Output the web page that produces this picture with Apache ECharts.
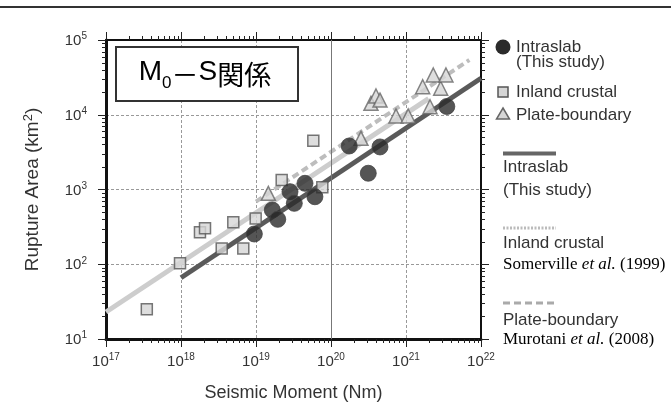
<!DOCTYPE html>
<html><head><meta charset="utf-8">
<script src="https://cdn.jsdelivr.net/npm/echarts@6/dist/echarts.min.js"></script>
<style>html,body{margin:0;padding:0;background:#fff}#c{width:671px;height:413px}</style>
</head><body><div id="c"></div><script>
// ---- data ----
const xDecades = [17, 18, 19, 20, 21, 22];
const yDecades = [1, 2, 3, 4, 5];
const minorMultipliers = [2, 3, 4, 5, 6, 7, 8, 9];
// [Seismic moment (Nm), Rupture area (km2)]
const intraslab = [[9.5e18, 254], [1.65e19, 532], [1.95e19, 399], [2.84e19, 935], [3.24e19, 653], [4.5e19, 1210], [6.1e19, 800], [1.75e20, 3820], [4.5e20, 3710], [3.14e20, 1650], [3.5e21, 12900]];
const inlandCrustal = [[3.5e17, 25], [9.7e17, 103], [1.79e18, 267], [2.09e18, 303], [3.49e18, 163], [4.98e18, 364], [6.77e18, 163], [9.9e18, 409], [2.2e19, 1340], [7.66e19, 1070], [5.81e19, 4500]];
const plateBoundary = [[1.46e19, 889], [2.51e20, 4840], [3.41e20, 14200], [3.98e20, 17800], [4.5e20, 15700], [7.36e20, 9620], [1.07e21, 9620], [2.09e21, 12800], [1.67e21, 23700], [2.9e21, 22600], [2.31e21, 34000], [3.41e21, 34000]];
const intraslabFit = [[1e18, 66], [1e22, 30800]];
const inlandFit = [[1e17, 23], [2e21, 16400]];
const plateFit = [[1e19, 690], [7e21, 54000]];

// ---- helpers ----
const SANS = "'Liberation Sans', Arial, Helvetica, sans-serif";
const SERIF = "'Liberation Serif', 'Times New Roman', serif";
const CJK = "'Noto Sans CJK JP', sans-serif";
const minorData = [];
xDecades.slice(0, -1).forEach(d => minorMultipliers.forEach(m => minorData.push([m * Math.pow(10, d), 100, 0])));
yDecades.slice(0, -1).forEach(d => minorMultipliers.forEach(m => minorData.push([1e19, m * Math.pow(10, d), 1])));

function powLabel(v) {
  const e = Math.round(Math.log10(v));
  return '{b|10}{s|' + e + '}';
}
const powRich = {
  b: { fontSize: 15, fontFamily: SANS, color: '#333', verticalAlign: 'bottom' },
  s: { fontSize: 10, fontFamily: SANS, color: '#333', verticalAlign: 'bottom', padding: [0, 0, 7, 0] }
};

function renderMinor(params, api) {
  const cs = params.coordSys;
  const L = 4;
  const st = { stroke: '#222', lineWidth: 1 };
  if (api.value(2) === 0) {
    const px = Math.round(api.coord([api.value(0), 100])[0]) + 0.5;
    return { type: 'group', children: [
      { type: 'line', shape: { x1: px, y1: cs.y + cs.height, x2: px, y2: cs.y + cs.height + L }, style: st },
      { type: 'line', shape: { x1: px, y1: cs.y, x2: px, y2: cs.y - L }, style: st }
    ] };
  } else {
    const py = Math.round(api.coord([1e19, api.value(1)])[1]) + 0.5;
    return { type: 'group', children: [
      { type: 'line', shape: { x1: cs.x, y1: py, x2: cs.x - L, y2: py }, style: st },
      { type: 'line', shape: { x1: cs.x + cs.width, y1: py, x2: cs.x + cs.width + L, y2: py }, style: st }
    ] };
  }
}

const chart = echarts.init(document.getElementById('c'), null, { renderer: 'canvas' });
const axisLineMain = { show: true, lineStyle: { color: '#111', width: 3 } };
const axisLineSub = { show: true, lineStyle: { color: '#111', width: 2 } };
const tick = { show: true, inside: false, length: 8, lineStyle: { color: '#222', width: 1 } };
const split = { show: true, lineStyle: { color: '#999', type: [3, 2], width: 1 } };

const legendText = (text, x, y) => ({ type: 'text', x: x, y: y, z: 100,
  style: { text: text, font: '17px ' + SANS, fill: '#333', verticalAlign: 'middle' } });
const refText = (author, year, x, y) => ({ type: 'text', x: x, y: y, z: 100,
  style: { text: '{r|' + author + ' }{i|et al.}{r| (' + year + ')}', verticalAlign: 'middle',
    rich: { r: { fontFamily: SERIF, fontSize: 17, color: '#333' }, i: { fontFamily: SERIF, fontSize: 17, fontStyle: 'italic', color: '#333' } } } });

chart.setOption({
  animation: false,
  backgroundColor: '#fff',
  grid: { left: 106, top: 40, right: 190, bottom: 74, outerBoundsMode: 'none' },
  xAxis: [
    { type: 'log', logBase: 10, min: 1e17, max: 1e22, splitNumber: 5, position: 'bottom',
      axisLine: axisLineMain, axisTick: tick, splitLine: split,
      axisLabel: { formatter: powLabel, rich: powRich, margin: 13 },
      name: 'Seismic Moment (Nm)', nameLocation: 'middle', nameGap: 45,
      nameTextStyle: { fontSize: 18, fontFamily: SANS, color: '#333' } },
    { type: 'log', logBase: 10, min: 1e17, max: 1e22, splitNumber: 5, position: 'top',
      axisLine: axisLineSub, axisTick: tick, splitLine: { show: false }, axisLabel: { show: false } }
  ],
  yAxis: [
    { type: 'log', logBase: 10, min: 1e1, max: 1e5, splitNumber: 4, position: 'left',
      axisLine: axisLineMain, axisTick: tick, splitLine: split,
      axisLabel: { formatter: powLabel, rich: powRich, margin: 19 },
      name: '{a|Rupture Area (km}{s|2}{a|)}', nameLocation: 'middle', nameGap: 64, nameRotate: 90,
      nameTextStyle: { rich: {
        a: { fontSize: 19, fontFamily: SANS, color: '#333', verticalAlign: 'bottom' },
        s: { fontSize: 13, fontFamily: SANS, color: '#333', verticalAlign: 'bottom', padding: [0, 0, 7, 0] } } } },
    { type: 'log', logBase: 10, min: 1e1, max: 1e5, splitNumber: 4, position: 'right',
      axisLine: axisLineSub, axisTick: tick, splitLine: { show: false }, axisLabel: { show: false } }
  ],
  series: [
    { type: 'custom', renderItem: renderMinor, data: minorData, dimensions: ['x', 'y', 'k'],
      encode: { x: 0, y: 1 }, clip: false, silent: true, z: 1 },
    { name: 'Inland crustal fit', type: 'line', data: inlandFit, showSymbol: false, silent: true, z: 2,
      lineStyle: { color: '#cdcdcd', width: 5 } },
    { name: 'Plate-boundary fit', type: 'line', data: plateFit, showSymbol: false, silent: true, z: 2,
      lineStyle: { color: '#bdbdbd', width: 4, type: [7, 4] } },
    { name: 'Intraslab fit', type: 'line', data: intraslabFit, showSymbol: false, silent: true, z: 3,
      lineStyle: { color: '#5a5a5a', width: 5 },
      markLine: { symbol: 'none', silent: true, label: { show: false },
        lineStyle: { color: '#777', type: 'solid', width: 1 }, data: [{ xAxis: 1e20 }] } },
    { name: 'Inland crustal', type: 'scatter', data: inlandCrustal, symbol: 'rect', symbolSize: 11, z: 4,
      itemStyle: { color: '#d6d6d6', borderColor: '#555', borderWidth: 1.5 } },
    { name: 'Plate-boundary', type: 'scatter', data: plateBoundary, symbol: 'triangle', symbolSize: 14, z: 4,
      itemStyle: { color: '#d6d6d6', borderColor: '#666', borderWidth: 1.5 } },
    { name: 'Intraslab', type: 'scatter', data: intraslab, symbol: 'circle', symbolSize: 16, z: 5,
      itemStyle: { color: '#2b2b2b', borderColor: '#444', borderWidth: 1 } }
  ],
  graphic: [
    { type: 'rect', shape: { x: 0, y: 6, width: 671, height: 2 }, style: { fill: '#333' } },
    { type: 'rect', z: 50, shape: { x: 116, y: 47, width: 182, height: 54 }, style: { fill: '#fff', stroke: '#333', lineWidth: 2 } },
    { type: 'text', z: 51, x: 205, y: 75,
      style: { text: '{m|M}{sub|0}{c|－}{m|S}{c|関係}', align: 'center', verticalAlign: 'middle',
        rich: {
          m: { fontFamily: SANS, fontSize: 28, color: '#333', verticalAlign: 'bottom', padding: [0, 0, 5, 0] },
          sub: { fontFamily: SANS, fontSize: 17, color: '#333', verticalAlign: 'bottom' },
          c: { fontFamily: CJK, fontSize: 27, color: '#333', verticalAlign: 'bottom', padding: [0, 0, 3, 0] } } } },
    // legend
    { type: 'circle', z: 100, shape: { cx: 503, cy: 47, r: 7.5 }, style: { fill: '#2b2b2b' } },
    legendText('Intraslab', 516, 47),
    legendText('(This study)', 516, 62),
    { type: 'rect', z: 100, shape: { x: 498, y: 87, width: 10, height: 10 }, style: { fill: '#d6d6d6', stroke: '#555', lineWidth: 1.5 } },
    legendText('Inland crustal', 516, 92),
    { type: 'polygon', z: 100, shape: { points: [[503, 108], [509.5, 119], [496.5, 119]] }, style: { fill: '#d6d6d6', stroke: '#666', lineWidth: 1.5 } },
    legendText('Plate-boundary', 516, 115),
    { type: 'line', z: 100, shape: { x1: 503, y1: 153.5, x2: 556, y2: 153.5 }, style: { stroke: '#666', lineWidth: 4 } },
    legendText('Intraslab', 503, 167),
    legendText('(This study)', 503, 190),
    { type: 'line', z: 100, shape: { x1: 503, y1: 228, x2: 556, y2: 228 }, style: { stroke: '#bbb', lineWidth: 3, lineDash: [2, 1.5] } },
    legendText('Inland crustal', 503, 243),
    refText('Somerville', '1999', 503, 265),
    { type: 'line', z: 100, shape: { x1: 503, y1: 303, x2: 556, y2: 303 }, style: { stroke: '#aaa', lineWidth: 3, lineDash: [7, 4] } },
    legendText('Plate-boundary', 503, 320),
    refText('Murotani', '2008', 503, 340)
  ]
});
</script></body></html>
